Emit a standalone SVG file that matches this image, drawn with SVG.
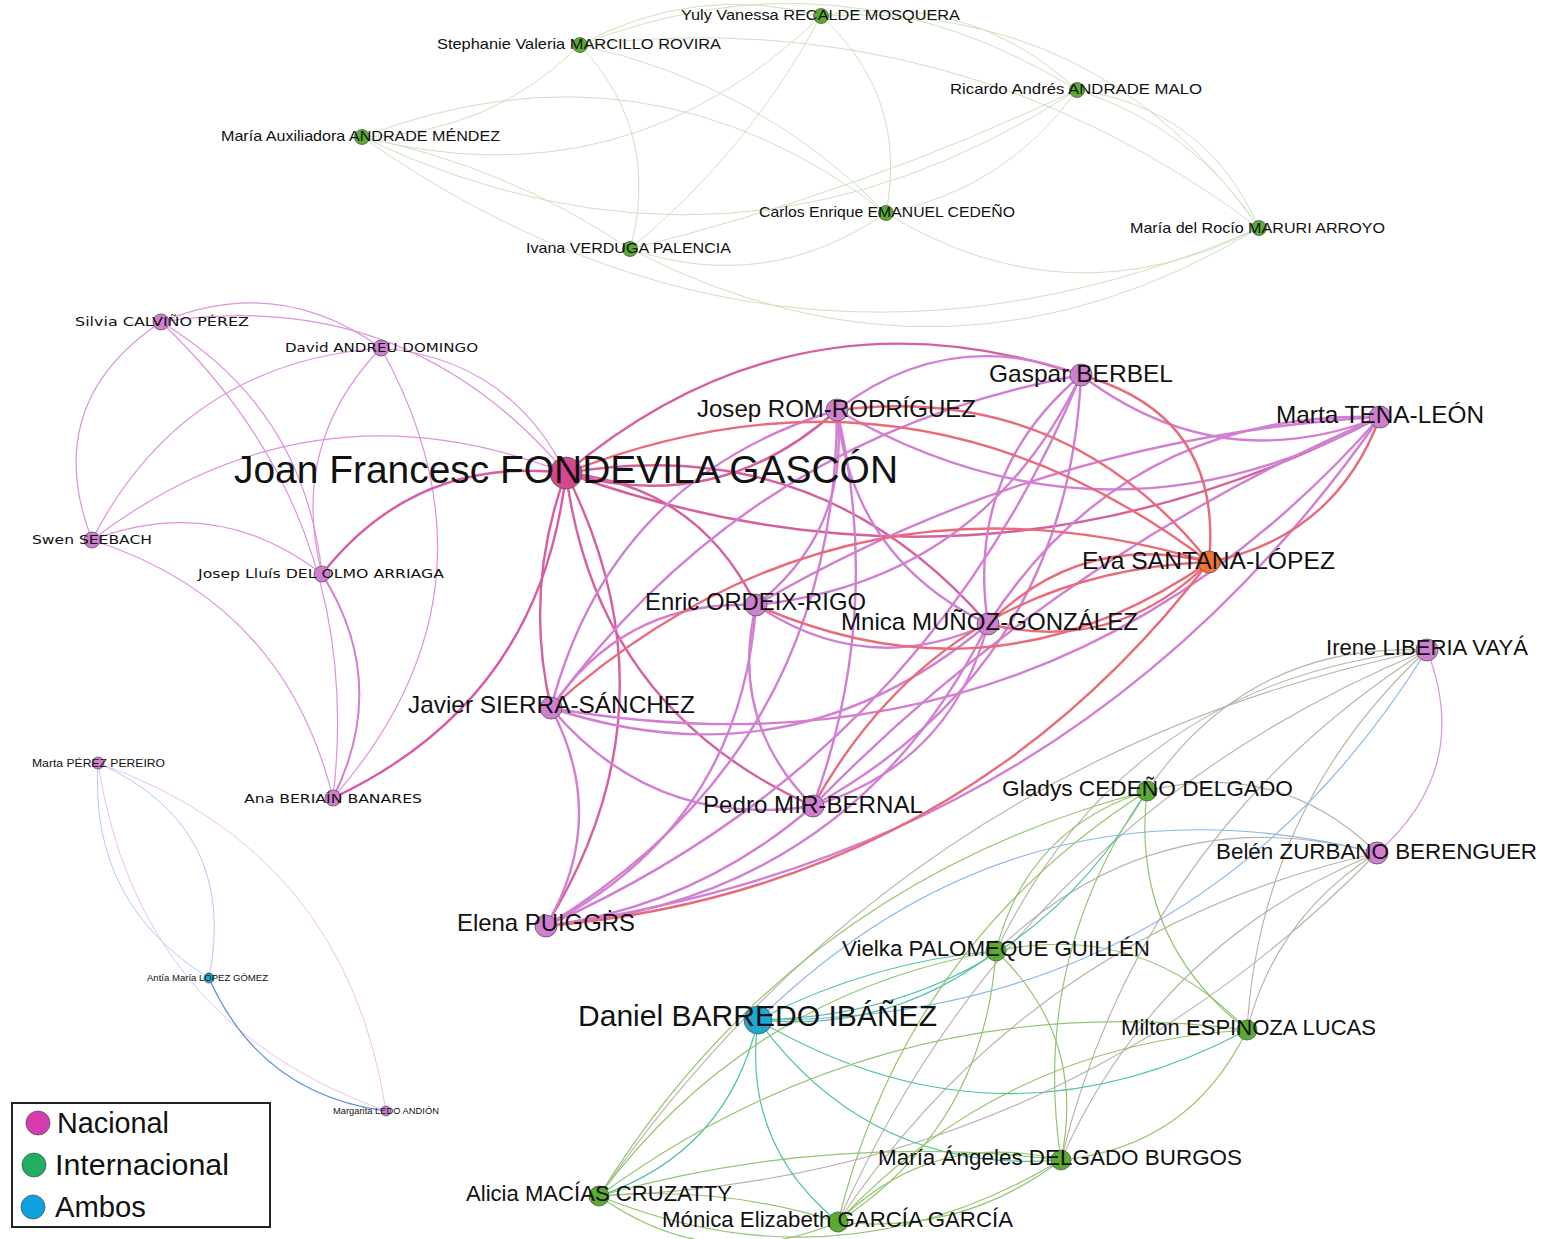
<svg xmlns="http://www.w3.org/2000/svg" width="1547" height="1239" viewBox="0 0 1547 1239">
<style>
.e path{fill:none;stroke-linecap:round}
.pc{stroke:#d27fd2;stroke-width:2.4}
.pf{stroke:#d5609f;stroke-width:2.4}
.rd{stroke:#e96a78;stroke-width:2.4}
.pt{stroke:#df92dc;stroke-width:1.2}
.pk{stroke:#d85aa8;stroke-width:2.4}
.pl{stroke:#ebb8ea;stroke-width:0.9}
.tg{stroke:#cde2bf;stroke-width:1}
.gy{stroke:#b8b2a6;stroke-width:1.1}
.gr{stroke:#93c46e;stroke-width:1.2}
.tl{stroke:#4fc2a5;stroke-width:1.2}
.bl{stroke:#8ab6ea;stroke-width:1.2}
.bt{stroke:#a8c4ee;stroke-width:0.9}
.bm{stroke:#5f90e0;stroke-width:1.3}
circle{stroke:#555;stroke-width:0.8}
.np{fill:#d07fd0}
.nf{fill:#d6478f}
.ns{fill:#f4742f}
.ng{fill:#5bab2f}
.nb{fill:#1ba9d3}
text{font-family:"Liberation Sans",Arial,sans-serif;fill:#111}
.t15{font-size:15px}
.t24{font-size:24px}
.t22{font-size:22px}
.dj{font-family:"DejaVu Sans",sans-serif;font-size:13px}
</style>
<rect width="1547" height="1239" fill="#ffffff"/>
<g id="connectors" class="e">
<!-- top green cluster -->
<path class="tg" d="M580,45 Q694.7,-17.7 821,16"/>
<path class="tg" d="M821,16 Q967.5,-11 1077,90"/>
<path class="tg" d="M821,16 Q625.4,205 362,137"/>
<path class="tg" d="M821,16 Q908.7,96.3 886,213"/>
<path class="tg" d="M821,16 Q748.8,151.6 630,249"/>
<path class="tg" d="M821,16 Q1099.4,-0.6 1259,228"/>
<path class="tg" d="M580,45 Q839.75,-56.75 1077,90"/>
<path class="tg" d="M580,45 Q489.4,134.6 362,137"/>
<path class="tg" d="M580,45 Q758.2,83.1 886,213"/>
<path class="tg" d="M580,45 Q662.1,133 630,249"/>
<path class="tg" d="M580,45 Q956.1,0.7 1259,228"/>
<path class="tg" d="M1077,90 Q732.7,313.7 362,137"/>
<path class="tg" d="M1077,90 Q1006.1,189.7 886,213"/>
<path class="tg" d="M1077,90 Q861.5,191.9 630,249"/>
<path class="tg" d="M1077,90 Q1206.6,108 1259,228"/>
<path class="tg" d="M1077,90 Q1192.8,126.2 1259,228"/>
<path class="tg" d="M362,137 Q645.3,28.3 886,213"/>
<path class="tg" d="M362,137 Q507.2,166.2 630,249"/>
<path class="tg" d="M1259,228 Q785,433.7 362,137"/>
<path class="tg" d="M886,213 Q767,295 630,249"/>
<path class="tg" d="M1259,228 Q1068.3,325 886,213"/>
<path class="tg" d="M1259,228 Q950.4,414.6 630,249"/>
<!-- left pink cluster -->
<path class="pt" d="M381,348 Q508.5,358.7 566,473"/>
<path class="pt" d="M92,540 Q310.2,373.8 566,473"/>
<path class="pt" d="M161,322 Q405.8,284.1 566,473"/>
<path class="pt" d="M161,322 Q278.3,273.4 381,348"/>
<path class="pt" d="M92,540 Q39.3,403.4 161,322"/>
<path class="pt" d="M161,322 Q304.5,407.75 322,574"/>
<path class="pt" d="M161,322 Q366,517 333,798"/>
<path class="pt" d="M92,540 Q182.7,363.1 381,348"/>
<path class="pt" d="M92,540 Q216.5,492.6 322,574"/>
<path class="pt" d="M92,540 Q284.7,601.5 333,798"/>
<path class="pt" d="M322,574 Q288.2,444.5 381,348"/>
<path class="pt" d="M381,348 Q514.5,589.8 333,798"/>
<path class="pc" style="stroke-width:2" d="M322,574 Q390.7,682.9 333,798"/>
<path class="pk" d="M322,574 Q415.7,455.2 566,473"/>
<path class="pk" d="M566,473 Q540.5,700.7 333,798"/>
<!-- lower left cluster -->
<path class="bt" d="M98,763 Q239.5,826.1 209,978"/>
<path class="bt" d="M209,978 Q89,903.8 98,763"/>
<path class="pl" d="M386,1111 Q137.6,1023.4 98,763"/>
<path class="pl" d="M98,763 Q346.4,850.6 386,1111"/>
<path class="bm" d="M386,1111 Q260.3,1094.1 209,978"/>
<!-- central cluster -->
<path class="pf" d="M566,473 Q796,280 1081,375"/>
<path class="pf" d="M837,410 Q719,517 566,473"/>
<path class="pf" d="M1380,417 Q985.3,624 566,473"/>
<path class="pf" d="M566,473 Q698,485.8 756,605"/>
<path class="pf" d="M566,473 Q819.3,430.3 988,624"/>
<path class="pf" d="M551,708 Q523.25,588.25 566,473"/>
<path class="pf" d="M813,806 Q596.3,708.7 566,473"/>
<path class="pf" d="M566,473 Q682.8,705.1 546,926"/>
<path class="pc" d="M837,410 Q949.2,324.2 1081,375"/>
<path class="pc" d="M1380,417 Q1106.5,565.5 837,410"/>
<path class="pc" d="M837,410 Q851.1,530.2 756,605"/>
<path class="pc" d="M988,624 Q852.6,559.3 837,410"/>
<path class="pc" d="M551,708 Q610.6,478.9 837,410"/>
<path class="pc" d="M837,410 Q884.4,611.6 813,806"/>
<path class="pc" d="M837,410 Q836,749.5 546,926"/>
<path class="pc" d="M1380,417 Q1218.7,479.7 1081,375"/>
<path class="pc" d="M1081,375 Q982.9,581 756,605"/>
<path class="pc" d="M988,624 Q964.8,473.5 1081,375"/>
<path class="pc" d="M551,708 Q749.4,435.5 1081,375"/>
<path class="pc" d="M1081,375 Q1067.7,665.5 813,806"/>
<path class="pc" d="M1081,375 Q923.7,757.5 546,926"/>
<path class="pc" d="M756,605 Q1045.4,436.1 1380,417"/>
<path class="pc" d="M988,624 Q1126,410.7 1380,417"/>
<path class="pc" d="M1380,417 Q1047,794.6 551,708"/>
<path class="pc" d="M813,806 Q1057.6,554.8 1380,417"/>
<path class="pc" d="M1380,417 Q1075,855 546,926"/>
<path class="pc" d="M988,624 Q866.7,679.5 756,605"/>
<path class="pc" d="M551,708 Q624.7,599.1 756,605"/>
<path class="pc" d="M813,806 Q728.2,721.5 756,605"/>
<path class="pc" d="M756,605 Q740.9,824.3 546,926"/>
<path class="pc" d="M988,624 Q793,788.4 551,708"/>
<path class="pc" d="M988,624 Q951.5,764 813,806"/>
<path class="pc" d="M988,624 Q851.6,898.8 546,926"/>
<path class="pc" d="M813,806 Q654.6,830.4 551,708"/>
<path class="pc" d="M551,708 Q609.5,818.4 546,926"/>
<path class="pc" d="M813,806 Q697.5,906 546,926"/>
<path class="rd" d="M566,473 Q912,337 1209,562"/>
<path class="rd" d="M837,410 Q1065.6,381.8 1209,562"/>
<path class="rd" d="M1081,375 Q1223.5,414.7 1209,562"/>
<path class="rd" d="M1380,417 Q1335.1,537.4 1209,562"/>
<path class="rd" d="M1209,562 Q994.5,710.3 756,605"/>
<path class="rd" d="M988,624 Q1081.1,531.1 1209,562"/>
<path class="rd" d="M1209,562 Q1115.9,654.9 988,624"/>
<path class="rd" d="M551,708 Q839.1,450.8 1209,562"/>
<path class="rd" d="M813,806 Q942.7,573.1 1209,562"/>
<path class="rd" d="M1209,562 Q957.6,889.9 546,926"/>
<!-- lower right cluster -->
<path class="pt" d="M1427,650 Q1473,769 1377,853"/>
<path class="gy" d="M1147,791 Q1247.5,642 1427,650"/>
<path class="gy" d="M1147,791 Q1279.4,757.6 1377,853"/>
<path class="gy" d="M996,951 Q1127.2,679.8 1427,650"/>
<path class="gy" d="M599,1196 Q903.8,757.4 1427,650"/>
<path class="gy" d="M838,1222 Q1018.1,818.2 1427,650"/>
<path class="gy" d="M1061,1160 Q1142,831.8 1427,650"/>
<path class="gy" d="M1247,1030 Q1261,804 1427,650"/>
<path class="gy" d="M996,951 Q1159.1,795.3 1377,853"/>
<path class="gy" d="M1377,853 Q1056.6,1180.1 599,1196"/>
<path class="gy" d="M838,1222 Q1033.7,929.7 1377,853"/>
<path class="gy" d="M1061,1160 Q1157.6,943.3 1377,853"/>
<path class="gy" d="M1247,1030 Q1276.6,915.5 1377,853"/>
<path class="bl" d="M1427,650 Q1196.1,1022.3 758,1020"/>
<path class="bl" d="M758,1020 Q1020.7,763.2 1377,853"/>
<path class="tl" d="M1147,791 Q1016.6,1014.4 758,1020"/>
<path class="tl" d="M996,951 Q890.8,1033.1 758,1020"/>
<path class="tl" d="M758,1020 Q870.1,961.7 996,951"/>
<path class="tl" d="M1247,1030 Q999.7,1161.9 758,1020"/>
<path class="tl" d="M1061,1160 Q870.3,1174.8 758,1020"/>
<path class="tl" d="M758,1020 Q727.8,1152.5 599,1196"/>
<path class="tl" d="M838,1222 Q741.4,1143.4 758,1020"/>
<path class="gr" d="M996,951 Q1026.7,828.7 1147,791"/>
<path class="gr" d="M1247,1030 Q1130.1,938.5 1147,791"/>
<path class="gr" d="M1061,1160 Q1030.2,958.3 1147,791"/>
<path class="gr" d="M599,1196 Q792,883.9 1147,791"/>
<path class="gr" d="M838,1222 Q906.3,944.7 1147,791"/>
<path class="gr" d="M996,951 Q1143.6,920.2 1247,1030"/>
<path class="gr" d="M996,951 Q1087,1037.3 1061,1160"/>
<path class="gr" d="M599,1196 Q748.5,994.1 996,951"/>
<path class="gr" d="M996,951 Q984.75,1126 838,1222"/>
<path class="gr" d="M1247,1030 Q1190.4,1147.1 1061,1160"/>
<path class="gr" d="M599,1196 Q889.8,983.4 1247,1030"/>
<path class="gr" d="M838,1222 Q1004.1,1044.2 1247,1030"/>
<path class="gr" d="M1061,1160 Q839,1293.5 599,1196"/>
<path class="gr" d="M599,1196 Q826.4,1131.8 1061,1160"/>
<path class="gr" d="M838,1222 Q932.1,1128.6 1061,1160"/>
<path class="gr" d="M1061,1160 Q961.9,1235.6 838,1222"/>
<path class="gr" d="M838,1222 Q711.2,1275.9 599,1196"/>
<path class="gr" d="M599,1196 Q721.1,1185.1 838,1222"/>
</g>
<g id="nodes">
<g id="n-recalde"><circle class="ng" cx="821" cy="16" r="7.5"/><text class="t15" x="681" y="20" textLength="279" lengthAdjust="spacingAndGlyphs">Yuly Vanessa RECALDE MOSQUERA</text></g>
<g id="n-marcillo"><circle class="ng" cx="580" cy="45" r="7.5"/><text class="t15" x="437" y="49" textLength="284" lengthAdjust="spacingAndGlyphs">Stephanie Valeria MARCILLO ROVIRA</text></g>
<g id="n-andrade-malo"><circle class="ng" cx="1077" cy="90" r="7.5"/><text class="t15" x="950" y="94" textLength="252" lengthAdjust="spacingAndGlyphs">Ricardo Andrés ANDRADE MALO</text></g>
<g id="n-andrade-mendez"><circle class="ng" cx="362" cy="137" r="7.5"/><text class="t15" x="221" y="141" textLength="279" lengthAdjust="spacingAndGlyphs">María Auxiliadora ANDRADE MÉNDEZ</text></g>
<g id="n-emanuel"><circle class="ng" cx="886" cy="213" r="7.5"/><text class="t15" x="759" y="217" textLength="256" lengthAdjust="spacingAndGlyphs">Carlos Enrique EMANUEL CEDEÑO</text></g>
<g id="n-maruri"><circle class="ng" cx="1259" cy="228" r="7.5"/><text class="t15" x="1130" y="233" textLength="255" lengthAdjust="spacingAndGlyphs">María del Rocío MARURI ARROYO</text></g>
<g id="n-verduga"><circle class="ng" cx="630" cy="249" r="7.5"/><text class="t15" x="526" y="253" textLength="205" lengthAdjust="spacingAndGlyphs">Ivana VERDUGA PALENCIA</text></g>

<g id="n-calvino"><circle class="np" cx="161" cy="322" r="8"/><text class="dj" x="75" y="326" textLength="174" lengthAdjust="spacingAndGlyphs">Silvia CALVIÑO PÉREZ</text></g>
<g id="n-andreu"><circle class="np" cx="381" cy="348" r="8"/><text class="dj" x="285" y="352" textLength="193" lengthAdjust="spacingAndGlyphs">David ANDREU DOMINGO</text></g>
<g id="n-seebach"><circle class="np" cx="92" cy="540" r="8"/><text class="dj" x="32" y="544" textLength="120" lengthAdjust="spacingAndGlyphs">Swen SEEBACH</text></g>
<g id="n-delolmo"><circle class="np" cx="322" cy="574" r="8"/><text class="dj" x="198" y="578" textLength="246" lengthAdjust="spacingAndGlyphs">Josep Lluís DEL OLMO ARRIAGA</text></g>
<g id="n-beriain"><circle class="np" cx="333" cy="798" r="8"/><text class="dj" x="244" y="803" textLength="178" lengthAdjust="spacingAndGlyphs">Ana BERIAÍN BANARES</text></g>

<g id="n-perez-pereiro"><circle class="np" cx="98" cy="763" r="6"/><text x="32" y="767" font-size="11" textLength="133" lengthAdjust="spacingAndGlyphs">Marta PÉREZ PEREIRO</text></g>
<g id="n-lopez-gomez"><circle class="nb" cx="209" cy="978" r="5"/><text x="147" y="981" font-size="8.5" textLength="121" lengthAdjust="spacingAndGlyphs">Antía María LÓPEZ GÓMEZ</text></g>
<g id="n-ledo"><circle class="np" cx="386" cy="1111" r="5"/><text x="333" y="1114" font-size="8.5" textLength="106" lengthAdjust="spacingAndGlyphs">Margarita LEDO ANDIÓN</text></g>

<g id="n-fondevila"><circle class="nf" cx="566" cy="473" r="16"/><text x="234" y="483" font-size="38" textLength="664" lengthAdjust="spacingAndGlyphs">Joan Francesc FONDEVILA GASCÓN</text></g>
<g id="n-rom"><circle class="np" cx="837" cy="410" r="11"/><text class="t24" x="697" y="417" textLength="279" lengthAdjust="spacingAndGlyphs">Josep ROM-RODRÍGUEZ</text></g>
<g id="n-berbel"><circle class="np" cx="1081" cy="375" r="11"/><text class="t24" x="989" y="382" textLength="184" lengthAdjust="spacingAndGlyphs">Gaspar BERBEL</text></g>
<g id="n-tena"><circle class="np" cx="1380" cy="417" r="11"/><text class="t24" x="1276" y="423" textLength="208" lengthAdjust="spacingAndGlyphs">Marta TENA-LEÓN</text></g>
<g id="n-santana"><circle class="ns" cx="1209" cy="562" r="11"/><text class="t24" x="1082" y="569" textLength="253" lengthAdjust="spacingAndGlyphs">Eva SANTANA-LÓPEZ</text></g>
<g id="n-ordeix"><circle class="np" cx="756" cy="605" r="11"/><text class="t24" x="645" y="610" textLength="221" lengthAdjust="spacingAndGlyphs">Enric ORDEIX-RIGO</text></g>
<g id="n-munoz"><circle class="np" cx="988" cy="624" r="11"/><text class="t24" x="841" y="630" textLength="297" lengthAdjust="spacingAndGlyphs">Mnica MUÑOZ-GONZÁLEZ</text></g>
<g id="n-sierra"><circle class="np" cx="551" cy="708" r="11"/><text class="t24" x="408" y="713" textLength="287" lengthAdjust="spacingAndGlyphs">Javier SIERRA-SÁNCHEZ</text></g>
<g id="n-mir"><circle class="np" cx="813" cy="806" r="11"/><text class="t24" x="703" y="813" textLength="220" lengthAdjust="spacingAndGlyphs">Pedro MIR-BERNAL</text></g>
<g id="n-puiggros"><circle class="np" cx="546" cy="926" r="11"/><text class="t24" x="457" y="931" textLength="178" lengthAdjust="spacingAndGlyphs">Elena PUIGGṘS</text></g>

<g id="n-liberia"><circle class="np" cx="1427" cy="650" r="11"/><text class="t22" x="1326" y="655" textLength="202" lengthAdjust="spacingAndGlyphs">Irene LIBERIA VAYÁ</text></g>
<g id="n-cedeno"><circle class="ng" cx="1147" cy="791" r="10"/><text class="t22" x="1002" y="796" textLength="291" lengthAdjust="spacingAndGlyphs">Gladys CEDEÑO DELGADO</text></g>
<g id="n-zurbano"><circle class="np" cx="1377" cy="853" r="11"/><text class="t22" x="1216" y="859" textLength="321" lengthAdjust="spacingAndGlyphs">Belén ZURBANO BERENGUER</text></g>
<g id="n-palomeque"><circle class="ng" cx="996" cy="951" r="10"/><text class="t22" x="842" y="956" textLength="308" lengthAdjust="spacingAndGlyphs">Vielka PALOMEQUE GUILLÉN</text></g>
<g id="n-barredo"><circle class="nb" cx="758" cy="1020" r="14"/><text x="578" y="1026" font-size="30" textLength="359" lengthAdjust="spacingAndGlyphs">Daniel BARREDO IBÁÑEZ</text></g>
<g id="n-espinoza"><circle class="ng" cx="1247" cy="1030" r="10"/><text class="t22" x="1121" y="1035" textLength="255" lengthAdjust="spacingAndGlyphs">Milton ESPINOZA LUCAS</text></g>
<g id="n-delgado"><circle class="ng" cx="1061" cy="1160" r="10"/><text class="t22" x="878" y="1165" textLength="364" lengthAdjust="spacingAndGlyphs">María Ángeles DELGADO BURGOS</text></g>
<g id="n-macias"><circle class="ng" cx="599" cy="1196" r="10"/><text class="t22" x="466" y="1201" textLength="266" lengthAdjust="spacingAndGlyphs">Alicia MACÍAS CRUZATTY</text></g>
<g id="n-garcia"><circle class="ng" cx="838" cy="1222" r="10"/><text class="t22" x="662" y="1227" textLength="351" lengthAdjust="spacingAndGlyphs">Mónica Elizabeth GARCÍA GARCÍA</text></g>
</g>
<g id="legend">
<rect x="12" y="1103" width="258" height="124" fill="#ffffff" stroke="#222" stroke-width="2"/>
<circle cx="38" cy="1123" r="12" fill="#d63caf" stroke="#222" stroke-width="1.5"/>
<circle cx="34" cy="1165" r="12" fill="#21ae60" stroke="#222" stroke-width="1.5"/>
<circle cx="33" cy="1207" r="12" fill="#0fa0e0" stroke="#222" stroke-width="1.5"/>
<text x="57" y="1133" font-size="29" fill="#222" textLength="112" lengthAdjust="spacingAndGlyphs">Nacional</text>
<text x="55" y="1175" font-size="29" fill="#222" textLength="174" lengthAdjust="spacingAndGlyphs">Internacional</text>
<text x="55" y="1217" font-size="29" fill="#222" textLength="91" lengthAdjust="spacingAndGlyphs">Ambos</text>
</g>
</svg>
